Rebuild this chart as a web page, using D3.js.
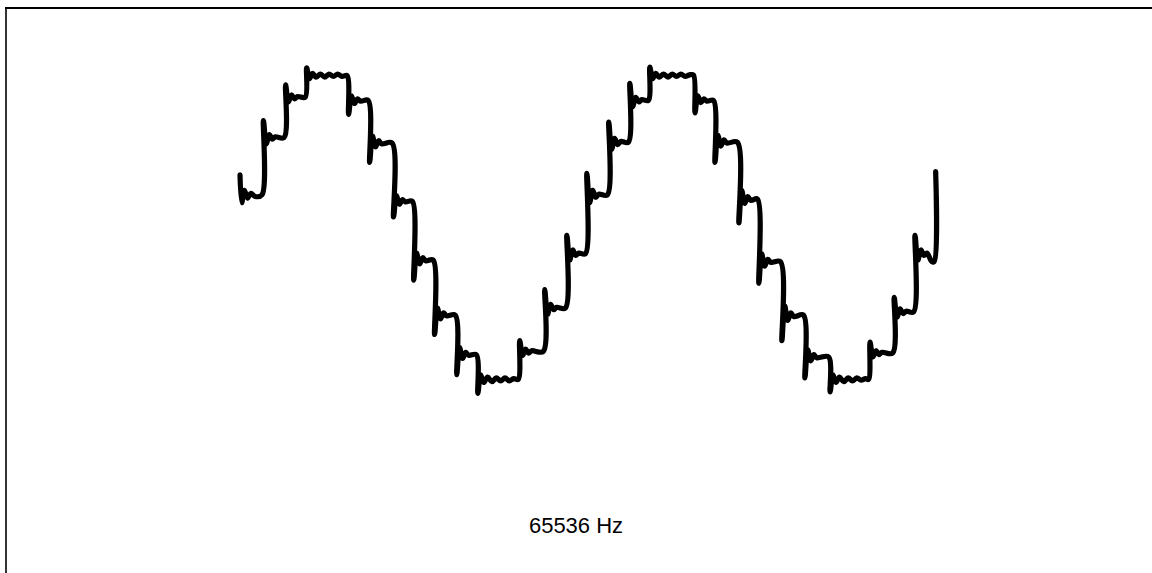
<!DOCTYPE html>
<html><head><meta charset="utf-8">
<script src="https://cdn.jsdelivr.net/npm/d3@7"></script>
<style>html,body{margin:0;padding:0;background:#fff;}svg{display:block;}</style>
</head><body>
<script>
// Traced waveform: time in sample periods, voltage in volts
const traceT = [
 0,0.08,0.2,0.35,0.5,0.7,
 1.01,1.08,1.21,1.35,1.49,1.63,
 2.03,2.1,2.23,2.37,2.51,2.65,
 3.0,3.07,3.2,3.34,3.5,3.7,3.9,4.1,4.3,4.5,4.7,
 4.93,5.0,5.13,5.27,5.41,5.55,
 5.9,5.97,6.1,6.24,6.38,6.52,
 7.0,7.07,7.2,7.34,7.48,7.62,
 7.93,8.0,8.13,8.27,8.41,8.55,
 8.89,8.96,9.09,9.23,9.37,9.51,
 9.91,9.98,10.11,10.25,10.39,10.53,
 10.88,10.95,11.08,11.22,11.4,11.6,11.8,12.0,12.2,12.4,12.6,
 12.81,12.88,13.01,13.15,13.29,13.43,
 13.96,14.03,14.16,14.3,14.44,14.58,
 14.98,15.05,15.18,15.32,15.46,15.6,
 15.9,15.97,16.1,16.24,16.38,16.52,
 16.91,16.98,17.11,17.25,17.39,17.53,
 17.88,17.95,18.08,18.22,18.36,18.5,
 18.8,18.87,19.0,19.14,19.3,19.5,19.7,19.9,20.1,20.3,20.5,20.7,
 20.88,20.95,21.08,21.22,21.36,21.5,
 21.8,21.87,22.0,22.14,22.28,22.42,
 22.9,22.97,23.1,23.24,23.38,23.52,
 23.82,23.89,24.02,24.16,24.3,24.44,
 24.88,24.95,25.08,25.22,25.36,25.5,
 25.94,26.01,26.14,26.28,26.42,26.56,
 27.1,27.17,27.3,27.44,27.6,27.8,28.0,28.2,28.4,28.6,28.8,
 28.94,29.01,29.14,29.28,29.42,29.56,
 30.05,30.12,30.25,30.39,30.53,30.67,
 31.01,31.08,31.21,31.35,31.49,31.63,31.85,
 31.96,32.03
];
const traceV = [
 3.4,1.6,2.4,1.9,2.2,2.0,
 2.1,6.9,5.4,6.0,5.7,5.85,
 5.8,9.2,8.1,8.55,8.3,8.45,
 8.4,10.3,9.6,9.95,9.7,9.9,9.7,9.9,9.75,9.9,9.75,
 9.8,7.3,8.5,8.0,8.3,8.15,
 8.2,4.2,5.9,5.2,5.6,5.4,
 5.45,0.68,2.05,1.5,1.8,1.65,
 1.7,-3.4,-1.65,-2.35,-1.95,-2.15,
 -2.1,-6.9,-5.2,-5.9,-5.5,-5.7,
 -5.65,-9.5,-7.75,-8.45,-8.05,-8.25,
 -8.2,-10.7,-9.5,-10.0,-9.65,-9.95,-9.7,-9.9,-9.7,-9.9,-9.75,
 -9.8,-7.3,-8.25,-7.85,-8.1,-7.95,
 -8.0,-4.0,-5.6,-4.95,-5.3,-5.15,
 -5.2,-0.5,-2.1,-1.45,-1.8,-1.65,
 -1.7,3.5,1.6,2.4,1.95,2.15,
 2.1,6.8,5.05,5.75,5.35,5.55,
 5.5,9.3,7.8,8.4,8.1,8.25,
 8.2,10.35,9.6,9.95,9.7,9.9,9.7,9.9,9.75,9.9,9.75,9.85,
 9.84,7.4,8.5,8.05,8.3,8.15,
 8.2,4.2,5.95,5.25,5.65,5.45,
 5.5,0.3,2.4,1.55,2.0,1.75,
 1.84,-3.6,-1.7,-2.5,-2.05,-2.25,
 -2.2,-7.3,-5.05,-6.0,-5.5,-5.75,
 -5.65,-9.7,-7.9,-8.6,-8.2,-8.4,
 -8.35,-10.6,-9.5,-10.0,-9.65,-9.95,-9.7,-9.9,-9.7,-9.85,-9.75,
 -9.8,-7.4,-8.35,-7.95,-8.2,-8.05,
 -8.1,-4.5,-5.8,-5.25,-5.55,-5.4,
 -5.45,-0.5,-2.1,-1.45,-1.8,-1.65,-2.2,
 -2.2,3.6
];
const xDomain = [0, 32];
const yDomain = [-10, 10];
const label = "65536 Hz";

const W = 1152, H = 573;
const margin = {left: 240, right: 217, top: 72.5, bottom: 190.5};

const svg = d3.select("body").append("svg").attr("width", W).attr("height", H);
svg.append("rect").attr("width", W).attr("height", H).attr("fill", "#fff");

// frame (only top and left edges visible)
svg.append("line").attr("x1", 5).attr("x2", W).attr("y1", 8).attr("y2", 8)
  .attr("stroke", "#000").attr("stroke-width", 2);
svg.append("line").attr("x1", 6).attr("x2", 6).attr("y1", 7).attr("y2", H)
  .attr("stroke", "#000").attr("stroke-width", 1.6);

const x = d3.scaleLinear().domain(xDomain).range([margin.left, W - margin.right]);
const y = d3.scaleLinear().domain(yDomain).range([H - margin.bottom, margin.top]);

const pts = traceT.map((t, i) => [t, traceV[i]]);
const line = d3.line().x(d => x(d[0])).y(d => y(d[1])).curve(d3.curveCatmullRom.alpha(0.5));

svg.append("path").datum(pts).attr("d", line)
  .attr("fill", "none").attr("stroke", "#000").attr("stroke-width", 5.2)
  .attr("stroke-linejoin", "round").attr("stroke-linecap", "round");

svg.append("text").attr("x", W / 2).attr("y", 533)
  .attr("text-anchor", "middle")
  .attr("font-family", "Liberation Sans, Arial, sans-serif")
  .attr("font-size", 22).attr("fill", "#000").text(label);
</script>
</body></html>
